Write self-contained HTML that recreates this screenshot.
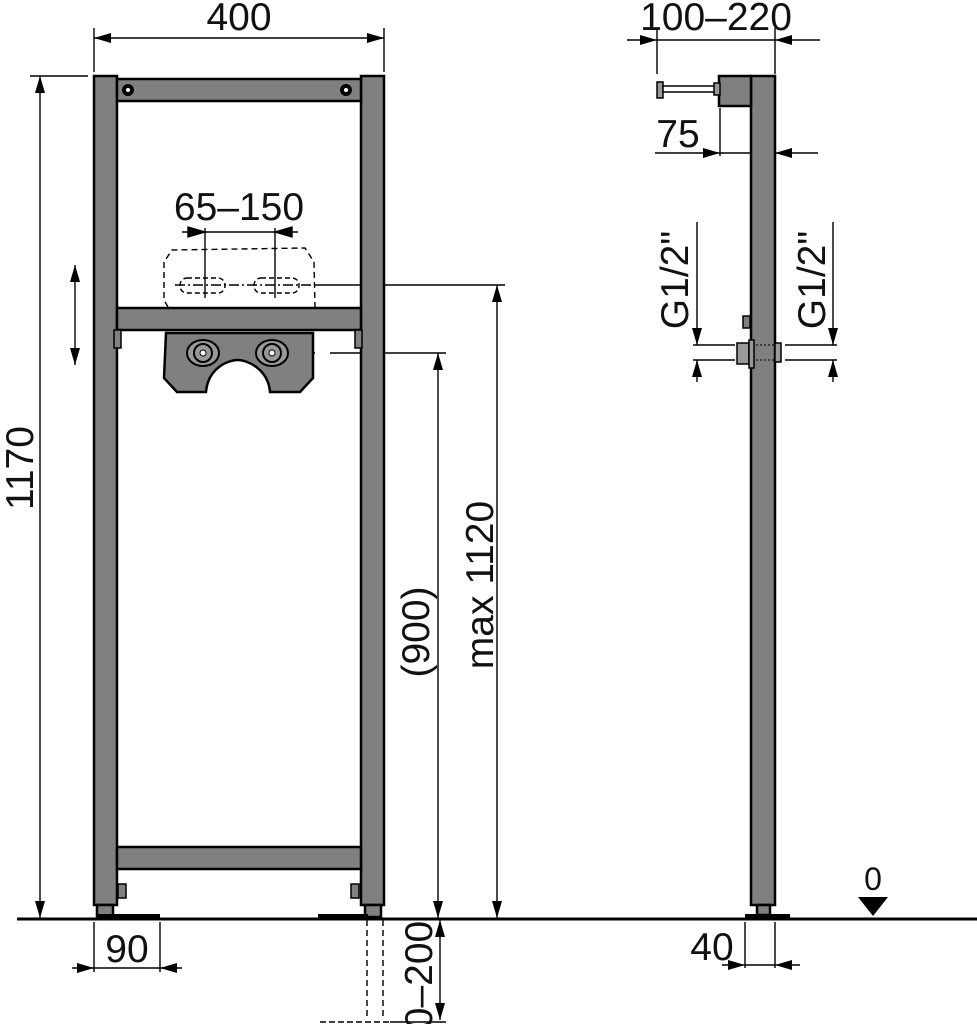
<!DOCTYPE html>
<html><head><meta charset="utf-8"><style>
html,body{margin:0;padding:0;background:#fff;}
svg{display:block;}
text{font-family:"Liberation Sans","DejaVu Sans",sans-serif;fill:#111;}
</style></head><body>
<svg width="977" height="1024" viewBox="0 0 977 1024" xmlns="http://www.w3.org/2000/svg">
<defs>
<marker id="a" viewBox="0 0 10 10" preserveAspectRatio="none" refX="10" refY="5" markerWidth="17" markerHeight="10" markerUnits="userSpaceOnUse" orient="auto-start-reverse"><path d="M0,0 L10,5 L0,10 z" fill="#000"/></marker>
</defs>
<g stroke="#000" fill="none" stroke-width="1.4">
<line x1="94" y1="28" x2="94" y2="72"/><line x1="384" y1="28" x2="384" y2="72"/>
<line x1="94" y1="38" x2="384" y2="38" marker-start="url(#a)" marker-end="url(#a)"/>
<line x1="30" y1="76" x2="88" y2="76"/>
<line x1="40" y1="76" x2="40" y2="918" marker-start="url(#a)" marker-end="url(#a)"/>
<line x1="75" y1="265" x2="75" y2="365" marker-start="url(#a)" marker-end="url(#a)"/>
<line x1="182" y1="232" x2="298" y2="232"/>
<path d="M188,227 L205,232 L188,237z M292,227 L275,232 L292,237z" fill="#000"/>
<line x1="205" y1="228" x2="205" y2="298"/><line x1="275" y1="228" x2="275" y2="298"/>
<path d="M168,307 L164,300 L164,262 L172,250 L305,248 L314,262 L315,307" stroke-dasharray="6,4"/>
<rect x="180" y="278" width="45" height="15" rx="7" stroke-dasharray="5,3"/>
<rect x="254" y="278" width="45" height="15" rx="7" stroke-dasharray="5,3"/>
<line x1="175" y1="285" x2="315" y2="285" stroke-dasharray="10,3,2,3"/>
<line x1="315" y1="285" x2="505" y2="285"/>
<line x1="497" y1="285" x2="497" y2="918" marker-start="url(#a)" marker-end="url(#a)"/>
<line x1="175" y1="353" x2="315" y2="353" stroke-dasharray="10,3,2,3"/>
<line x1="330" y1="353" x2="446" y2="353"/>
<line x1="438" y1="353" x2="438" y2="918" marker-start="url(#a)" marker-end="url(#a)"/>
<line x1="440" y1="920" x2="440" y2="1020" marker-start="url(#a)" marker-end="url(#a)"/>
<line x1="367" y1="920" x2="367" y2="1020" stroke-dasharray="6,4"/>
<line x1="383" y1="920" x2="383" y2="1020" stroke-dasharray="6,4"/>
<line x1="320" y1="1022" x2="390" y2="1022" stroke-dasharray="6,3"/>
<line x1="390" y1="1022" x2="446" y2="1022"/>
<line x1="94" y1="922" x2="94" y2="972"/><line x1="160" y1="922" x2="160" y2="972"/>
<line x1="72" y1="968" x2="94" y2="968" marker-end="url(#a)"/>
<line x1="182" y1="968" x2="160" y2="968" marker-end="url(#a)"/>
<line x1="94" y1="968" x2="160" y2="968"/>
<line x1="657" y1="28" x2="657" y2="74"/><line x1="775" y1="28" x2="775" y2="74"/>
<line x1="627" y1="40" x2="657" y2="40" marker-end="url(#a)"/>
<line x1="820" y1="40" x2="775" y2="40" marker-end="url(#a)"/>
<line x1="657" y1="40" x2="775" y2="40"/>
<line x1="720" y1="108" x2="720" y2="156"/>
<line x1="655" y1="153" x2="720" y2="153" marker-end="url(#a)"/>
<line x1="818" y1="153" x2="775" y2="153" marker-end="url(#a)"/>
<line x1="720" y1="153" x2="775" y2="153"/>
<line x1="697" y1="222" x2="697" y2="345" marker-end="url(#a)"/>
<line x1="697" y1="382" x2="697" y2="360" marker-end="url(#a)"/>
<line x1="693" y1="345" x2="735" y2="345"/><line x1="693" y1="360" x2="735" y2="360"/>
<line x1="833" y1="222" x2="833" y2="345" marker-end="url(#a)"/>
<line x1="833" y1="382" x2="833" y2="360" marker-end="url(#a)"/>
<line x1="785" y1="345" x2="837" y2="345"/><line x1="785" y1="360" x2="837" y2="360"/>
<line x1="745" y1="922" x2="745" y2="968"/><line x1="775" y1="922" x2="775" y2="968"/>
<line x1="722" y1="965" x2="745" y2="965" marker-end="url(#a)"/>
<line x1="800" y1="965" x2="775" y2="965" marker-end="url(#a)"/>
<line x1="745" y1="965" x2="775" y2="965"/>
</g>
<line x1="17" y1="919" x2="977" y2="919" stroke="#000" stroke-width="3"/>
<path d="M858,897 L888,897 L873,916z" fill="#000"/>
<g stroke="#000" stroke-width="2.5" fill="#808080">
<rect x="94" y="76" width="23" height="829"/>
<rect x="361" y="76" width="23" height="829"/>
<rect x="117" y="79" width="244" height="22"/>
<rect x="117" y="308" width="244" height="22"/>
<rect x="117" y="847" width="244" height="22"/>
<rect x="97" y="905" width="16" height="12"/>
<rect x="365" y="905" width="16" height="12"/>
<path d="M166,333 L313,333 L313,378 L300,392 L270,392 C268,368 246,360 238,360 C228,360 208,368 206,392 L177,392 L164,378 z"/>
<rect x="114" y="330" width="7" height="18" stroke-width="1.5"/>
<rect x="355" y="330" width="7" height="18" stroke-width="1.5"/>
<rect x="118" y="884" width="8" height="14" stroke-width="1.5"/>
<rect x="351" y="884" width="8" height="14" stroke-width="1.5"/>
<rect x="751" y="76" width="24" height="829"/>
<rect x="719" y="76" width="32" height="30"/>
<rect x="757" y="905" width="13" height="10"/>
<rect x="743" y="316" width="7" height="12" stroke-width="1.5"/>
</g>
<rect x="96" y="914" width="64" height="5" fill="#000"/>
<rect x="318" y="914" width="50" height="5" fill="#000"/>
<rect x="745" y="914" width="45" height="5" fill="#000"/>
<g fill="#000"><circle cx="128" cy="90" r="6"/><circle cx="346" cy="90" r="6"/></g>
<g fill="#fff"><circle cx="128" cy="90" r="2"/><circle cx="346" cy="90" r="2"/></g>
<g stroke="#000" stroke-width="2" fill="#999">
<ellipse cx="203" cy="353" rx="16" ry="13"/><circle cx="203" cy="353" r="9"/>
<ellipse cx="272" cy="353" rx="16" ry="13"/><circle cx="272" cy="353" r="9"/>
</g>
<g fill="#fff" stroke="#000"><circle cx="203" cy="353" r="3"/><circle cx="272" cy="353" r="3"/></g>
<g stroke="#000" stroke-width="1.5" fill="#999">
<rect x="657" y="82" width="6" height="16"/>
<rect x="663" y="86" width="52" height="6" fill="#fff"/>
<rect x="714" y="83" width="6" height="12"/>
<rect x="737" y="343" width="12" height="21"/>
<rect x="749" y="340" width="5" height="28"/>
<rect x="775" y="343" width="6" height="19"/>
</g>
<line x1="756" y1="345" x2="775" y2="345" stroke="#000" stroke-dasharray="2,2"/>
<line x1="756" y1="360" x2="775" y2="360" stroke="#000" stroke-dasharray="2,2"/>
<g font-size="39">
<text x="239" y="30" text-anchor="middle">400</text>
<text x="239" y="220" text-anchor="middle">65–150</text>
<text x="127" y="962" text-anchor="middle">90</text>
<text x="716" y="30" text-anchor="middle">100–220</text>
<text x="678" y="147" text-anchor="middle">75</text>
<text x="712" y="960" text-anchor="middle">40</text>
<text x="873" y="890" text-anchor="middle" font-size="32">0</text>
<text transform="translate(33,468) rotate(-90)" text-anchor="middle">1170</text>
<text transform="translate(493,585) rotate(-90)" text-anchor="middle">max 1120</text>
<text transform="translate(429,632) rotate(-90)" text-anchor="middle">(900)</text>
<text transform="translate(432,975) rotate(-90)" text-anchor="middle">0–200</text>
<text transform="translate(688,280) rotate(-90)" text-anchor="middle">G1/2"</text>
<text transform="translate(825,280) rotate(-90)" text-anchor="middle">G1/2"</text>
</g>
</svg>
</body></html>
